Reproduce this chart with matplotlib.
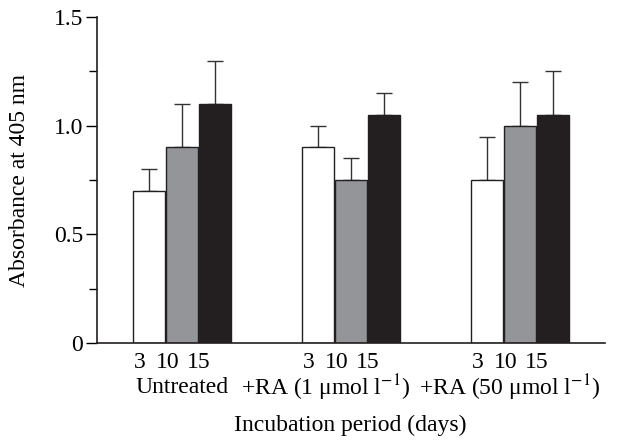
import numpy as np
import matplotlib
matplotlib.use("Agg")
import matplotlib.pyplot as plt
from matplotlib.transforms import blended_transform_factory

# Data
groups = ["Untreated", "+RA (1 \u03bcmol l$^{-1}$)", "+RA (50 \u03bcmol l$^{-1}$)"]
days = ["3", "10", "15"]
means = {
    "3": [0.70, 0.90, 0.75],
    "10": [0.90, 0.75, 1.00],
    "15": [1.10, 1.05, 1.05],
}
errors = {
    "3": [0.10, 0.10, 0.20],
    "10": [0.20, 0.10, 0.20],
    "15": [0.20, 0.10, 0.20],
}
colors = {"3": "#ffffff", "10": "#939598", "15": "#231f20"}
yticks = [0, 0.5, 1.0, 1.5]
ytick_labels = ["0", "0.5", "1.0", "1.5"]

# label placement (offsets in group units, as in the original layout)
day_label_shift = [-0.25, -0.085, 0.10]
group_label_shift = [0.0, -0.15, -0.06]

plt.rcParams["font.family"] = ["Liberation Serif", "DejaVu Serif"]
plt.rcParams["mathtext.fontset"] = "stix"
FS = 17

fig = plt.figure(figsize=(6.26, 4.44), dpi=100)
ax = fig.add_axes([0.155, 0.2275, 0.811, 0.734])
trans = blended_transform_factory(ax.transData, ax.transAxes)

x = np.arange(len(groups))
width = 0.195
for i, d in enumerate(days):
    pos = x + (i - 1) * width
    ax.bar(pos, means[d], width=width * 0.97, color=colors[d],
           edgecolor="#231f20", linewidth=1.0, zorder=2)
    ax.errorbar(pos, means[d], yerr=[np.zeros(len(groups)), errors[d]],
                fmt="none", ecolor="#333333", elinewidth=1.0,
                capsize=5.5, capthick=1.0, zorder=1)
    for j in range(len(groups)):
        ax.text(x[j] + day_label_shift[i], -0.061, d, ha="center",
                va="center", fontsize=FS, transform=trans)

for j, g in enumerate(groups):
    ax.text(x[j] + group_label_shift[j], -0.138, g, ha="center",
            va="center", fontsize=FS, transform=trans)

ax.set_xlim(-0.5, 2.5)
ax.set_ylim(0, 1.5)
ax.set_xticks([])
ax.set_yticks(yticks, ytick_labels)
ax.set_yticks(np.arange(0.25, 1.5, 0.5), minor=True)
ax.tick_params(axis="y", which="major", length=8, width=1.0, labelsize=FS,
               direction="out", pad=2)
ax.tick_params(axis="y", which="minor", length=6, width=1.0, direction="out")
for side in ("top", "right"):
    ax.spines[side].set_visible(False)
for side in ("left", "bottom"):
    ax.spines[side].set_linewidth(1.2)
    ax.spines[side].set_color("#231f20")

ax.set_ylabel("Absorbance at 405 nm", fontsize=FS, va="center")
ax.yaxis.set_label_coords(-0.152, 0.5)
fig.text(0.56, 0.043, "Incubation period (days)", ha="center", va="center",
         fontsize=FS)

fig.savefig("out.png", dpi=100)
